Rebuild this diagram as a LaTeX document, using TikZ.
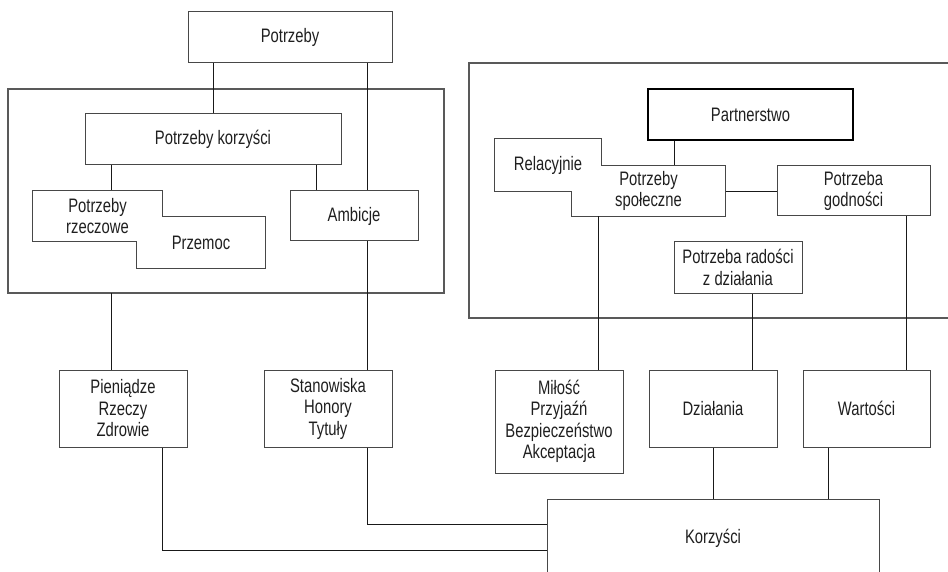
\documentclass[tikz,border=0pt]{standalone}
\usepackage{fontspec}
\setmainfont{Liberation Sans}[FakeStretch=0.76]
\begin{document}
\begin{tikzpicture}[x=1pt,y=-1pt,
  box/.style={draw=black!72, line width=1pt, fill=white, inner sep=0pt, align=center,
     text=black!88, font=\fontsize{19.5}{21.5}\selectfont},
  tbox/.style={box, draw=none, fill=none},
  frame/.style={draw=black!65, line width=1.1pt},
  conn/.style={draw=black!90, line width=0.8pt}]
\useasboundingbox (0,0) rectangle (948,572);
\clip (0,0) rectangle (948,572);
% frames
\draw[frame] (8,89) rectangle (444,293);
\draw[frame] (469,63) rectangle (960,318);
% nodes
\node[box, minimum width=204pt, minimum height=51pt] (potrzeby) at (290,37.5) {Potrzeby};
\node[box, minimum width=256pt, minimum height=51pt] (korz) at (213,139.5) {Potrzeby korzyści};
\node[tbox, minimum width=129pt, minimum height=50pt] (rzecz) at (97.5,216) {Potrzeby\\rzeczowe};
\node[tbox, minimum width=128pt, minimum height=51pt] (przemoc) at (201,242.5) {Przemoc};
\node[box, minimum width=128pt, minimum height=50pt] (ambicje) at (354,216) {Ambicje};
\node[box, draw=black, line width=1.3pt, minimum width=205pt, minimum height=51pt] (partner) at (750.5,114.5) {Partnerstwo};
\node[tbox, minimum width=106pt, minimum height=52pt] (relac) at (548,165) {Relacyjnie};
\node[tbox, minimum width=153pt, minimum height=50pt] (spol) at (648.5,191) {Potrzeby\\społeczne};
\node[box, minimum width=153pt, minimum height=50pt] (godn) at (853.5,191) {Potrzeba\\godności};
\node[box, minimum width=128pt, minimum height=51pt] (radosc) at (738,267.5) {Potrzeba radości\\z działania};
\node[box, minimum width=128pt, minimum height=77pt] (pien) at (123,408.5) {Pieniądze\\Rzeczy\\Zdrowie};
\node[box, minimum width=128pt, minimum height=77pt] (stan) at (328,408.5) {Stanowiska\\Honory\\Tytuły};
\node[box, minimum width=128pt, minimum height=103pt] (milosc) at (559,421.5) {Miłość\\Przyjaźń\\Bezpieczeństwo\\Akceptacja};
\node[box, minimum width=128pt, minimum height=77pt] (dzial) at (713,408.5) {Działania};
\node[box, minimum width=127pt, minimum height=77pt] (wart) at (866.5,408.5) {Wartości};
\node[box, minimum width=332pt, minimum height=78pt] (korzysci) at (713,538) {Korzyści};
% union outlines
\draw[draw=black!72, line width=1pt] (rzecz.north west) -- (rzecz.north east) -- (rzecz.east |- przemoc.north)
  -- (przemoc.north east) -- (przemoc.south east) -- (przemoc.south west) -- (przemoc.west |- rzecz.south)
  -- (rzecz.south west) -- cycle;
\draw[draw=black!72, line width=1pt] (relac.north west) -- (relac.north east) -- (relac.east |- spol.north)
  -- (spol.north east) -- (spol.south east) -- (spol.south west) -- (spol.west |- relac.south)
  -- (relac.south west) -- cycle;
% connectors
\coordinate (xa) at (367,0);
\coordinate (xb) at (111,0);
\coordinate (xc) at (316,0);
\coordinate (xd) at (162,0);
\coordinate (xe) at (674,0);
\coordinate (xf) at (598,0);
\coordinate (xg) at (752,0);
\coordinate (xh) at (906,0);
\coordinate (xi) at (828,0);
\coordinate (ya) at (0,524);
\coordinate (yb) at (0,550);
\coordinate (yc) at (0,293);
\draw[conn] (korz.north) -- (korz.north |- potrzeby.south);
\draw[conn] (xa |- potrzeby.south) -- (xa |- ambicje.north);
\draw[conn] (xa |- ambicje.south) -- (xa |- stan.north);
\draw[conn] (xb |- korz.south) -- (xb |- rzecz.north);
\draw[conn] (xc |- korz.south) -- (xc |- ambicje.north);
\draw[conn] (xb |- yc) -- (xb |- pien.north);
\draw[conn] (xd |- pien.south) -- (xd |- yb) -- (korzysci.west |- yb);
\draw[conn] (xa |- stan.south) -- (xa |- ya) -- (korzysci.west |- ya);
\draw[conn] (dzial.south) -- (korzysci.north);
\draw[conn] (xi |- wart.south) -- (xi |- korzysci.north);
\draw[conn] (xe |- partner.south) -- (xe |- spol.north);
\draw[conn] (spol.east) -- (godn.west);
\draw[conn] (xf |- spol.south) -- (xf |- milosc.north);
\draw[conn] (xg |- radosc.south) -- (xg |- dzial.north);
\draw[conn] (xh |- godn.south) -- (xh |- wart.north);
\end{tikzpicture}
\end{document}
